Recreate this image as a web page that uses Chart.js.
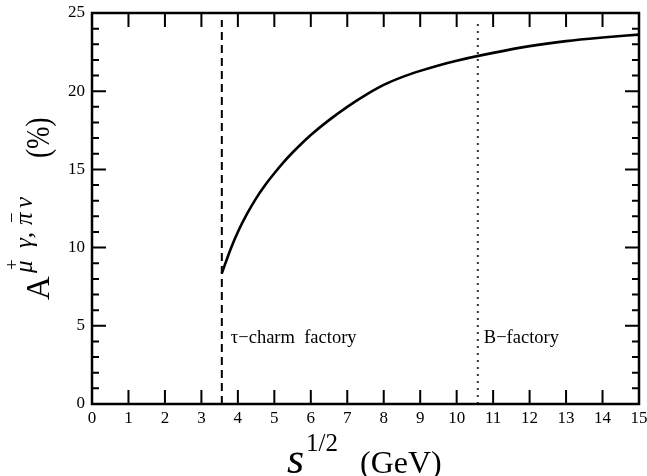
<!DOCTYPE html>
<html lang="en">
<head>
<meta charset="UTF-8">
<title>Asymmetry vs sqrt(s)</title>
<script src="https://cdn.jsdelivr.net/npm/chart.js@4.4.1/dist/chart.umd.min.js"></script>
<style>
  html, body { margin: 0; padding: 0; background: #fff; }
  #wrap { width: 647px; height: 476px; }
</style>
</head>
<body>
<div id="wrap"><canvas id="chart" width="647" height="476"></canvas></div>
<script>
// curve
const energy = [3.56, 3.8, 4.0, 4.25, 4.5, 4.75, 5.0, 5.25, 5.5, 5.75, 6.0, 6.5, 7.0, 7.5, 8.0, 8.5, 9.0, 9.5, 10.0, 11.0, 12.0, 13.0, 14.0, 15.0];
const asym   = [8.35, 9.9, 11.0, 12.15, 13.15, 14.0, 14.75, 15.45, 16.08, 16.66, 17.2, 18.15, 19.0, 19.75, 20.4, 20.9, 21.3, 21.65, 21.95, 22.45, 22.88, 23.2, 23.43, 23.62];

// vertical markers
const tauCharmE = 3.56;
const bFactoryE = 10.58;
const markerTop = 24.55;
const tauLabel = 'τ−charm  factory';
const bLabel = 'B−factory';

const SERIF = '"Liberation Serif", "DejaVu Serif", serif';

const frameAndTitles = {
  id: 'frameAndTitles',
  afterDraw(chart) {
    const ctx = chart.ctx;
    const a = chart.chartArea;
    const xs = chart.scales.x, ys = chart.scales.y;
    ctx.save();
    ctx.strokeStyle = '#000';
    ctx.fillStyle = '#000';

    // frame
    ctx.lineWidth = 2.5;
    ctx.strokeRect(a.left, a.top, a.right - a.left, a.bottom - a.top);

    // inward ticks, all four sides
    ctx.lineWidth = 2;
    ctx.beginPath();
    for (let v = 1; v < 15; v++) {
      const px = xs.getPixelForValue(v);
      ctx.moveTo(px, a.bottom); ctx.lineTo(px, a.bottom - 14);
      ctx.moveTo(px, a.top); ctx.lineTo(px, a.top + 14);
    }
    for (let v = 1; v < 25; v++) {
      const py = ys.getPixelForValue(v);
      const len = v % 5 === 0 ? 14 : 7;
      ctx.moveTo(a.left, py); ctx.lineTo(a.left + len, py);
      ctx.moveTo(a.right, py); ctx.lineTo(a.right - len, py);
    }
    ctx.stroke();

    // marker labels
    ctx.font = '18.5px ' + SERIF;
    ctx.textBaseline = 'alphabetic';
    ctx.textAlign = 'left';
    const labY = 343;
    ctx.fillText(tauLabel, xs.getPixelForValue(tauCharmE) + 9, labY);
    ctx.fillText(bLabel, xs.getPixelForValue(bFactoryE) + 6, labY);

    // x title: s^{1/2} (GeV)
    const xBase = 473;
    ctx.font = 'italic 44px ' + SERIF;
    ctx.fillText('s', 287, xBase);
    ctx.font = '25px ' + SERIF;
    ctx.fillText('1/2', 306, xBase - 22);
    ctx.font = '32px ' + SERIF;
    ctx.fillText('(GeV)', 360, xBase);

    // y title: A^{mu+ gamma,pi- nu} (%), reads bottom to top
    ctx.translate(49, 300);
    ctx.rotate(-Math.PI / 2);
    ctx.font = '33px ' + SERIF;
    ctx.fillText('A', 0, 0);
    ctx.font = 'italic 25px ' + SERIF;
    ctx.fillText('μ', 27, -17);
    ctx.fillText('γ,', 52, -17);
    ctx.fillText('π', 75, -17);
    ctx.fillText('ν', 92, -17);
    ctx.font = '19px ' + SERIF;
    ctx.fillText('+', 30, -31);
    ctx.fillText('−', 77, -31);
    ctx.font = '33px ' + SERIF;
    ctx.save();
    ctx.translate(142, 0);
    ctx.scale(0.82, 1);
    ctx.fillText('(%)', 0, 0);
    ctx.restore();
    ctx.restore();
  }
};

new Chart(document.getElementById('chart'), {
  type: 'line',
  data: {
    datasets: [
      {
        data: energy.map((e, i) => ({ x: e, y: asym[i] })),
        borderColor: '#000',
        borderWidth: 2.6,
        pointRadius: 0,
        cubicInterpolationMode: 'monotone'
      },
      {
        data: [{ x: tauCharmE, y: 0 }, { x: tauCharmE, y: markerTop }],
        borderColor: '#000',
        borderWidth: 2,
        borderDash: [8, 5],
        pointRadius: 0
      },
      {
        data: [{ x: bFactoryE, y: 0 }, { x: bFactoryE, y: markerTop }],
        borderColor: '#333',
        borderWidth: 2,
        borderDash: [2, 5],
        pointRadius: 0
      }
    ]
  },
  options: {
    responsive: false,
    animation: false,
    layout: { padding: { left: 0, right: 8, top: 13, bottom: 0 } },
    plugins: { legend: { display: false }, tooltip: { enabled: false } },
    scales: {
      x: {
        type: 'linear', min: 0, max: 15,
        grid: { display: false, drawTicks: false },
        border: { display: false },
        ticks: { stepSize: 1, padding: 4, color: '#000', font: { family: SERIF, size: 17 }, maxRotation: 0 },
        afterFit(scale) { scale.height = 72; scale.paddingLeft = 0; scale.paddingRight = 0; }
      },
      y: {
        min: 0, max: 25,
        grid: { display: false, drawTicks: false },
        border: { display: false },
        ticks: { stepSize: 5, padding: 7, color: '#000', font: { family: SERIF, size: 17 } },
        afterFit(scale) { scale.width = 92; scale.paddingTop = 0; scale.paddingBottom = 0; }
      }
    }
  },
  plugins: [frameAndTitles]
});
</script>
</body>
</html>
